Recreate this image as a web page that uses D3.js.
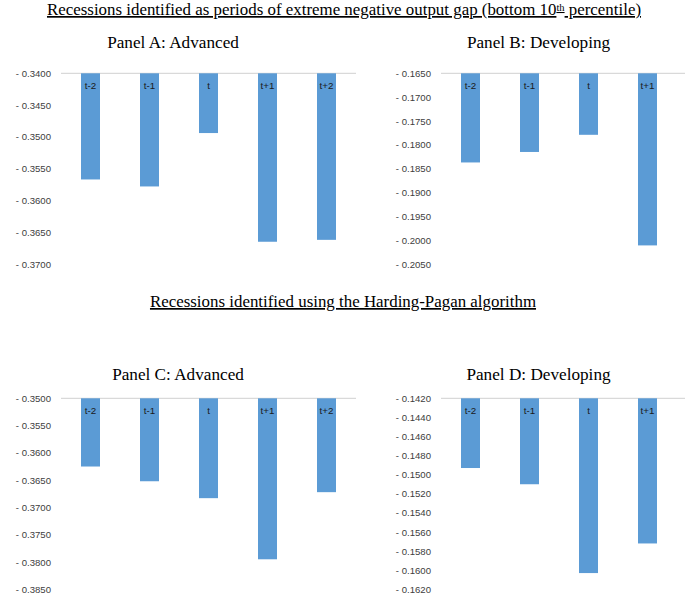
<!DOCTYPE html>
<html>
<head>
<meta charset="utf-8">
<script src="https://cdn.jsdelivr.net/npm/d3@7"></script>
<style>
  html, body { margin: 0; padding: 0; background: #fff; }
  svg { display: block; }
</style>
</head>
<body>
<svg id="chart" width="685" height="605"></svg>
<script>
// ---- Data ----
const categories5 = ["t-2", "t-1", "t", "t+1", "t+2"];
const categories4 = ["t-2", "t-1", "t", "t+1"];

const valuesA = [-0.3567, -0.3578, -0.3494, -0.3665, -0.3662];
const valuesB = [-0.1837, -0.1815, -0.1779, -0.2011];
const valuesC = [-0.3625, -0.3652, -0.3683, -0.3795, -0.3672];
const valuesD = [-0.1493, -0.1510, -0.1603, -0.1572];

const ticksA = [-0.3400, -0.3450, -0.3500, -0.3550, -0.3600, -0.3650, -0.3700];
const ticksB = [-0.1650, -0.1700, -0.1750, -0.1800, -0.1850, -0.1900, -0.1950, -0.2000, -0.2050];
const ticksC = [-0.3500, -0.3550, -0.3600, -0.3650, -0.3700, -0.3750, -0.3800, -0.3850];
const ticksD = [-0.1420, -0.1440, -0.1460, -0.1480, -0.1500, -0.1520, -0.1540, -0.1560, -0.1580, -0.1600, -0.1620];

const title1 = "Recessions identified as periods of extreme negative output gap (bottom 10";
const title1Sup = "th";
const title1End = " percentile)";
const title2 = "Recessions identified using the Harding-Pagan algorithm";
const panelTitles = ["Panel A: Advanced", "Panel B: Developing", "Panel C: Advanced", "Panel D: Developing"];

// ---- Drawing ----
const svg = d3.select("#chart");
const serif = "'Liberation Serif', 'Times New Roman', serif";
const sans = "'Liberation Sans', Arial, sans-serif";

// Main titles
const t1 = svg.append("text")
  .attr("x", 344).attr("y", 15)
  .attr("text-anchor", "middle")
  .attr("font-family", serif).attr("font-size", 16.9)
  .attr("fill", "#000")
  .style("text-decoration", "underline");
t1.append("tspan").text(title1);
t1.append("tspan").attr("font-size", 10.5).attr("baseline-shift", "4.5").text(title1Sup);
t1.append("tspan").text(title1End);

svg.append("text")
  .attr("x", 343).attr("y", 307)
  .attr("text-anchor", "middle")
  .attr("font-family", serif).attr("font-size", 16.9)
  .attr("fill", "#000")
  .style("text-decoration", "underline")
  .text(title2);

const panels = [
  { title: panelTitles[0], cats: categories5, vals: valuesA, ticks: ticksA, x0: 61, x1: 356, y0: 73.3, y1: 264, tx: 173, ty: 47.5, lineEnd: 356 },
  { title: panelTitles[1], cats: categories4, vals: valuesB, ticks: ticksB, x0: 441, x1: 677, y0: 73.3, y1: 264, tx: 538.5, ty: 47.5, lineEnd: 685 },
  { title: panelTitles[2], cats: categories5, vals: valuesC, ticks: ticksC, x0: 61, x1: 356, y0: 398.3, y1: 589.3, tx: 178, ty: 379.5, lineEnd: 356 },
  { title: panelTitles[3], cats: categories4, vals: valuesD, ticks: ticksD, x0: 441, x1: 677, y0: 398.3, y1: 589.3, tx: 538.5, ty: 379.5, lineEnd: 685 }
];

panels.forEach(p => {
  const g = svg.append("g");
  const top = p.ticks[0];
  const bottom = p.ticks[p.ticks.length - 1];

  const y = d3.scaleLinear().domain([top, bottom]).range([p.y0, p.y1]);
  const x = d3.scaleBand().domain(p.cats).range([p.x0, p.x1])
    .paddingInner(0.678).paddingOuter(0.339);

  // panel title
  g.append("text")
    .attr("x", p.tx).attr("y", p.ty)
    .attr("text-anchor", "middle")
    .attr("font-family", serif).attr("font-size", 17.2)
    .attr("fill", "#000")
    .text(p.title);

  // top axis line (gridline at the axis maximum)
  g.append("line")
    .attr("x1", p.x0).attr("x2", p.lineEnd)
    .attr("y1", y(top)).attr("y2", y(top))
    .attr("stroke", "#d9d9d9").attr("stroke-width", 1.3);

  // y axis
  const axis = d3.axisLeft(y)
    .tickValues(p.ticks)
    .tickSize(0)
    .tickPadding(10)
    .tickFormat(d => "- " + Math.abs(d).toFixed(4));
  const ag = g.append("g")
    .attr("transform", `translate(${p.x0},0)`)
    .call(axis);
  ag.select(".domain").remove();
  ag.selectAll("text")
    .attr("font-family", sans).attr("font-size", 9.6)
    .attr("fill", "#404040");

  // bars
  const data = p.cats.map((c, i) => ({ c, v: p.vals[i] }));
  g.selectAll("rect.bar").data(data).enter().append("rect")
    .attr("class", "bar")
    .attr("x", d => x(d.c))
    .attr("y", y(top))
    .attr("width", x.bandwidth())
    .attr("height", d => y(d.v) - y(top))
    .attr("fill", "#5b9bd5");

  // category labels inside the bars
  g.selectAll("text.cat").data(data).enter().append("text")
    .attr("class", "cat")
    .attr("x", d => x(d.c) + x.bandwidth() / 2)
    .attr("y", y(top) + 16)
    .attr("text-anchor", "middle")
    .attr("font-family", sans).attr("font-size", 9.8)
    .attr("fill", "#1a1a1a")
    .text(d => d.c);
});
</script>
</body>
</html>
